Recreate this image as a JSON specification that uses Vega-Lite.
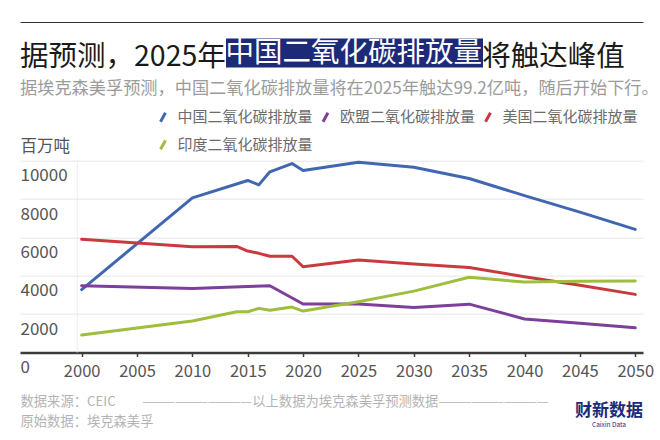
{
  "$schema": "https://vega.github.io/schema/vega-lite/v6.json",
  "width": 623,
  "height": 191.8,
  "autosize": {"type": "none"},
  "padding": {"left": 20, "top": 160.7, "right": 17, "bottom": 87.5},
  "background": "white",
  "config": {
    "font": "Noto Sans CJK SC",
    "view": {"stroke": null}
  },
  "title": {
    "text": "据预测，2025年　　　　　　　　　将触达峰值",
    "subtitle": "据埃克森美孚预测，中国二氧化碳排放量将在2025年触达99.2亿吨，随后开始下行。",
    "anchor": "start",
    "frame": "group",
    "offset": -75,
    "fontSize": 28.5,
    "fontWeight": "normal",
    "color": "#1a1a1a",
    "subtitleFontSize": 17.2,
    "subtitleColor": "#9b9b9b",
    "subtitlePadding": 8
  },
  "data": {
    "values": [
      {"series": "中国二氧化碳排放量", "year": 2000, "value": 3280},
      {"series": "中国二氧化碳排放量", "year": 2010, "value": 8060},
      {"series": "中国二氧化碳排放量", "year": 2015, "value": 8970},
      {"series": "中国二氧化碳排放量", "year": 2016, "value": 8740},
      {"series": "中国二氧化碳排放量", "year": 2017, "value": 9420},
      {"series": "中国二氧化碳排放量", "year": 2019, "value": 9850},
      {"series": "中国二氧化碳排放量", "year": 2020, "value": 9490},
      {"series": "中国二氧化碳排放量", "year": 2025, "value": 9920},
      {"series": "中国二氧化碳排放量", "year": 2030, "value": 9660},
      {"series": "中国二氧化碳排放量", "year": 2035, "value": 9070},
      {"series": "中国二氧化碳排放量", "year": 2040, "value": 8180},
      {"series": "中国二氧化碳排放量", "year": 2045, "value": 7320},
      {"series": "中国二氧化碳排放量", "year": 2050, "value": 6420},
      {"series": "欧盟二氧化碳排放量", "year": 2000, "value": 3480},
      {"series": "欧盟二氧化碳排放量", "year": 2010, "value": 3340},
      {"series": "欧盟二氧化碳排放量", "year": 2015, "value": 3440},
      {"series": "欧盟二氧化碳排放量", "year": 2017, "value": 3480},
      {"series": "欧盟二氧化碳排放量", "year": 2020, "value": 2530},
      {"series": "欧盟二氧化碳排放量", "year": 2025, "value": 2530},
      {"series": "欧盟二氧化碳排放量", "year": 2030, "value": 2340},
      {"series": "欧盟二氧化碳排放量", "year": 2035, "value": 2520},
      {"series": "欧盟二氧化碳排放量", "year": 2040, "value": 1750},
      {"series": "欧盟二氧化碳排放量", "year": 2045, "value": 1520},
      {"series": "欧盟二氧化碳排放量", "year": 2050, "value": 1290},
      {"series": "美国二氧化碳排放量", "year": 2000, "value": 5900},
      {"series": "美国二氧化碳排放量", "year": 2010, "value": 5510},
      {"series": "美国二氧化碳排放量", "year": 2014, "value": 5530},
      {"series": "美国二氧化碳排放量", "year": 2015, "value": 5290},
      {"series": "美国二氧化碳排放量", "year": 2016, "value": 5170},
      {"series": "美国二氧化碳排放量", "year": 2017, "value": 5020},
      {"series": "美国二氧化碳排放量", "year": 2019, "value": 5020},
      {"series": "美国二氧化碳排放量", "year": 2020, "value": 4470},
      {"series": "美国二氧化碳排放量", "year": 2025, "value": 4820},
      {"series": "美国二氧化碳排放量", "year": 2030, "value": 4610},
      {"series": "美国二氧化碳排放量", "year": 2035, "value": 4430},
      {"series": "美国二氧化碳排放量", "year": 2040, "value": 3950},
      {"series": "美国二氧化碳排放量", "year": 2045, "value": 3510},
      {"series": "美国二氧化碳排放量", "year": 2050, "value": 3030},
      {"series": "印度二氧化碳排放量", "year": 2000, "value": 910},
      {"series": "印度二氧化碳排放量", "year": 2010, "value": 1640},
      {"series": "印度二氧化碳排放量", "year": 2014, "value": 2125},
      {"series": "印度二氧化碳排放量", "year": 2015, "value": 2125},
      {"series": "印度二氧化碳排放量", "year": 2016, "value": 2300},
      {"series": "印度二氧化碳排放量", "year": 2017, "value": 2200},
      {"series": "印度二氧化碳排放量", "year": 2019, "value": 2370},
      {"series": "印度二氧化碳排放量", "year": 2020, "value": 2160},
      {"series": "印度二氧化碳排放量", "year": 2025, "value": 2650},
      {"series": "印度二氧化碳排放量", "year": 2030, "value": 3200},
      {"series": "印度二氧化碳排放量", "year": 2035, "value": 3920},
      {"series": "印度二氧化碳排放量", "year": 2040, "value": 3670},
      {"series": "印度二氧化碳排放量", "year": 2045, "value": 3720},
      {"series": "印度二氧化碳排放量", "year": 2050, "value": 3730}
    ]
  },
  "layer": [
    {
      "mark": {"type": "line", "strokeWidth": 3, "strokeJoin": "round", "strokeCap": "round"},
      "encoding": {
        "x": {
          "field": "year",
          "type": "quantitative",
          "scale": {"domain": [1994.43, 2050.7], "nice": false, "zero": false},
          "axis": {
            "orient": "bottom",
            "values": [2000, 2005, 2010, 2015, 2020, 2025, 2030, 2035, 2040, 2045, 2050],
            "format": "d",
            "grid": false,
            "domainColor": "#3c3c3c",
            "domainWidth": 2.5,
            "tickColor": "#3c3c3c",
            "tickSize": 4,
            "tickWidth": 1.5,
            "labelFontSize": 16.5,
            "labelColor": "#555555",
            "labelPadding": 7,
            "labelBaseline": "top",
            "labelFlush": false,
            "labelOverlap": false,
            "title": ["数据来源：CEIC　　——————————以上数据为埃克森美孚预测数据——————————", "原始数据：埃克森美孚"],
            "titleAlign": "left",
            "titleAnchor": "start",
            "titleBaseline": "alphabetic",
            "titleX": 0,
            "titleY": 53.3,
            "titleFontSize": 13.3,
            "titleFontWeight": "normal",
            "titleColor": "#b3b3b3",
            "titleLineHeight": 20
          }
        },
        "y": {
          "field": "value",
          "type": "quantitative",
          "scale": {"domain": [0, 10000], "nice": false},
          "axis": {
            "values": [0, 2000, 4000, 6000, 8000, 10000],
            "format": "d",
            "domain": false,
            "ticks": false,
            "tickSize": 0,
            "grid": true,
            "gridColor": "#e6e6e6",
            "gridWidth": 1,
            "labelAlign": "left",
            "labelBaseline": "line-top",
            "labelLineHeight": 30,
            "labelPadding": 0,
            "labelFontSize": 17,
            "labelColor": "#555555",
            "labelOverlap": false,
            "labelFlush": false,
            "title": "百万吨",
            "titleAngle": 0,
            "titleAlign": "left",
            "titleBaseline": "alphabetic",
            "titleX": 0,
            "titleY": -9.5,
            "titleFontSize": 16.5,
            "titleFontWeight": "normal",
            "titleColor": "#555555"
          }
        },
        "color": {
          "field": "series",
          "type": "nominal",
          "sort": ["中国二氧化碳排放量", "欧盟二氧化碳排放量", "美国二氧化碳排放量", "印度二氧化碳排放量"],
          "scale": {
            "domain": ["中国二氧化碳排放量", "欧盟二氧化碳排放量", "美国二氧化碳排放量", "印度二氧化碳排放量"],
            "range": ["#4067b0", "#7d3f99", "#c93a3e", "#9fbe3e"]
          },
          "legend": {
            "orient": "none",
            "direction": "horizontal",
            "legendX": 135.5,
            "legendY": -51,
            "title": null,
            "columns": 3,
            "columnPadding": 3.5,
            "rowPadding": 6.7,
            "padding": 0,
            "labelFontSize": 15,
            "labelColor": "#6b6b6b",
            "labelOffset": 7,
            "labelLimit": 0,
            "symbolType": "M-0.45,0.8L0.45,-0.8",
            "symbolSize": 121,
            "symbolStrokeWidth": 3
          }
        }
      }
    },
    {
      "data": {"values": [{"item": "divider"}]},
      "mark": {"type": "rule"},
      "encoding": {
        "x": {
          "datum": 1999.6,
          "type": "quantitative",
          "scale": {"domain": [1994.43, 2050.7], "nice": false, "zero": false},
          "axis": {
            "orient": "top",
            "offset": 138.7,
            "domain": true,
            "domainColor": "#333333",
            "domainWidth": 1,
            "ticks": false,
            "labels": false,
            "grid": false,
            "title": null
          }
        },
        "stroke": {
          "datum": "财新数据",
          "type": "nominal",
          "scale": {"range": ["#e9e9e9"]},
          "legend": {
            "orient": "none",
            "legendX": 555,
            "legendY": 242,
            "title": "Caixin Data",
            "titleOrient": "bottom",
            "titleAnchor": "middle",
            "titleFontSize": 6.5,
            "titleFontWeight": "normal",
            "titleColor": "#1d2a78",
            "titlePadding": 2,
            "padding": 0,
            "labelColor": "#1d2a78",
            "labelFontSize": 17,
            "labelFontWeight": "bold",
            "labelOffset": -17,
            "labelLimit": 0,
            "symbolType": "circle",
            "symbolSize": 0,
            "symbolStrokeWidth": 0,
            "symbolOpacity": 0
          }
        },
        "strokeDash": {
          "datum": "中国二氧化碳排放量",
          "type": "nominal",
          "scale": {"range": [[1, 0]]},
          "legend": {
            "orient": "none",
            "legendX": 206,
            "legendY": -122.2,
            "title": null,
            "fillColor": "#1d2a78",
            "padding": 0,
            "labelColor": "#ffffff",
            "labelFontSize": 28.5,
            "labelOffset": -29,
            "labelLimit": 0,
            "symbolType": "circle",
            "symbolSize": 0,
            "symbolStrokeWidth": 0,
            "symbolOpacity": 0
          }
        }
      }
    }
  ],
  "resolve": {"axis": {"x": "independent"}}
}
